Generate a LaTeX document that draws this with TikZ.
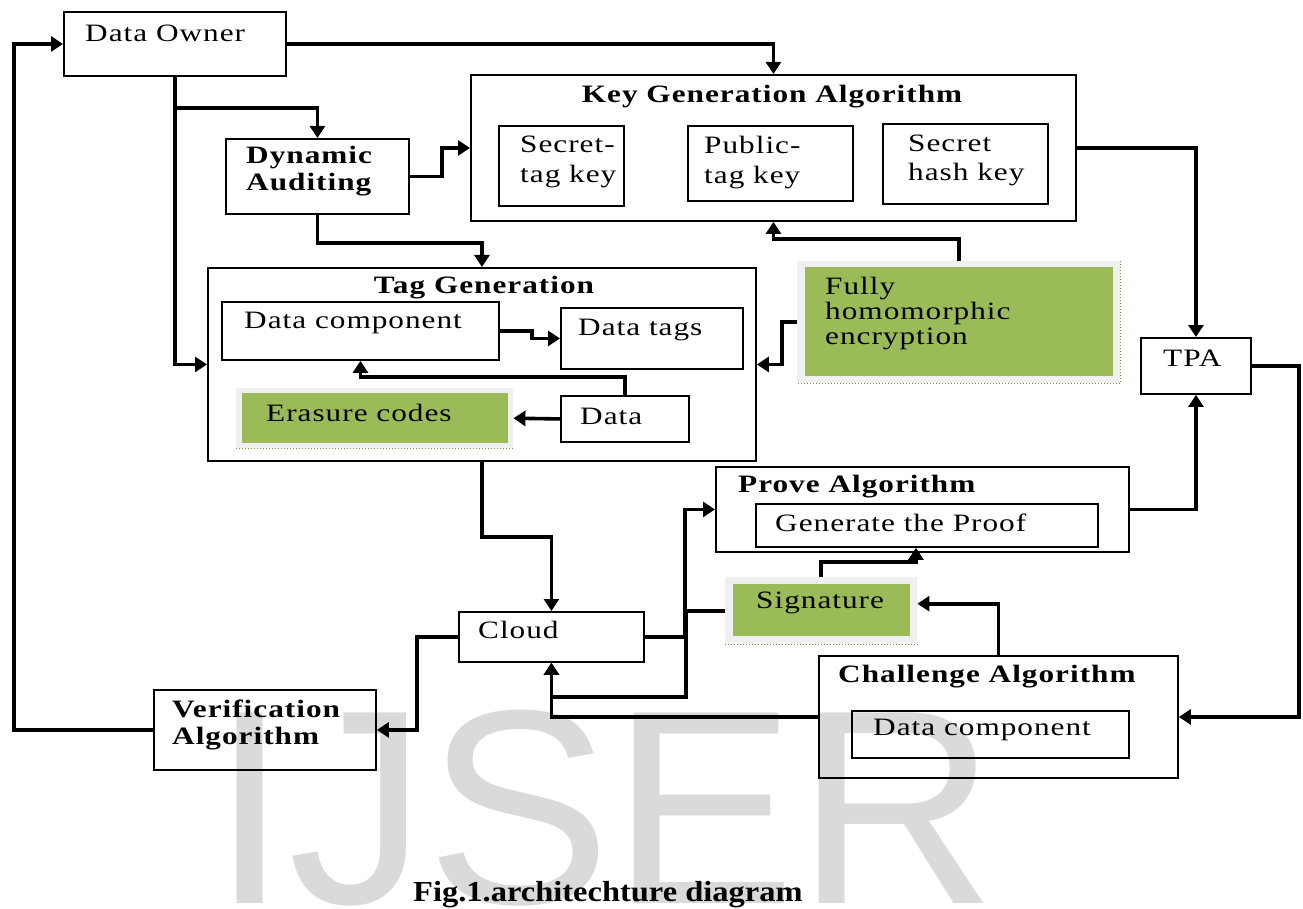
\documentclass[tikz,border=0pt]{standalone}
\usepackage{fontspec}
\setmainfont{Liberation Serif}[FakeStretch=1.25,LetterSpace=4]
\newfontfamily\capfont{Liberation Serif}[FakeStretch=1.12]
\newfontfamily\wmfont{Liberation Sans}
\usetikzlibrary{arrows.meta,calc}
\definecolor{ogreen}{HTML}{9BBB59}
\definecolor{oframe}{HTML}{F0F0F0}
\definecolor{odot}{HTML}{76923C}
\definecolor{wmgray}{HTML}{DADADA}
\newcommand\dfont{\fontsize{25}{27}\selectfont}
\begin{document}
\begin{tikzpicture}[x=1pt,y=-1pt,
  box/.style={draw, line width=1.9pt, inner sep=0pt, anchor=north west},
  gframe/.style={fill=oframe, inner sep=0pt, anchor=north west},
  gbox/.style={fill=ogreen, inner sep=0pt, anchor=north west},
  conn/.style={line width=3.6pt, -{Triangle[length=12pt,width=15pt]}},
  lbl/.style={anchor=west, inner sep=0pt, font=\dfont, align=left},
  blbl/.style={anchor=west, inner sep=0pt, font=\dfont\bfseries, align=left},
  ttl/.style={anchor=center, inner sep=0pt, font=\dfont\bfseries},
  dotl/.style={draw=odot, line width=1pt, dotted}]

\useasboundingbox (0,0) rectangle (1303,909);

% watermark
\begin{scope}
\clip (0,0) rectangle (1303,909);
\node[anchor=base west, inner sep=0pt, text=wmgray, font=\wmfont\fontsize{277}{277}\selectfont] (wm) at (211,903) {IJSER};
\end{scope}

% boxes
\node[box, minimum width=222pt, minimum height=64pt] (owner) at (63,11) {};
\node[box, minimum width=605pt, minimum height=146pt] (keygen) at (470,74) {};
\node[box, minimum width=125pt, minimum height=80pt] (sk) at (498,125) {};
\node[box, minimum width=165pt, minimum height=75pt] (pk) at (687,125) {};
\node[box, minimum width=165pt, minimum height=80pt] (hk) at (882,123) {};
\node[box, minimum width=183pt, minimum height=75pt] (dyn) at (225,138) {};
\node[box, minimum width=548pt, minimum height=193pt] (taggen) at (207,267) {};
\node[box, minimum width=277pt, minimum height=58pt] (dc1) at (221,301) {};
\node[box, minimum width=182pt, minimum height=61pt] (dtags) at (560,307) {};
\node[box, minimum width=128pt, minimum height=46pt] (data) at (560,395) {};
\node[box, minimum width=110pt, minimum height=56pt] (tpa) at (1140,337) {};
\node[box, minimum width=413pt, minimum height=85pt] (prove) at (715,466) {};
\node[box, minimum width=342pt, minimum height=43pt] (gen) at (755,503) {};
\node[box, minimum width=185pt, minimum height=50pt] (cloud) at (458,611) {};
\node[box, minimum width=359pt, minimum height=122pt] (chal) at (818,655) {};
\node[box, minimum width=277pt, minimum height=47pt] (dc2) at (851,710) {};
\node[box, minimum width=222pt, minimum height=80pt] (verif) at (153,689) {};

% green boxes
\node[gframe, minimum width=277pt, minimum height=60pt] (erasure) at (236,388) {};
\node[gbox, minimum width=266pt, minimum height=50pt] (erasureg) at (242,393) {};
\draw[dotl] (erasure.south west) -- (erasure.south east);

\node[gframe, minimum width=323pt, minimum height=122pt] (fhe) at (797,261) {};
\node[gbox, minimum width=308pt, minimum height=109pt] (fheg) at (805,267) {};
\draw[dotl] (fhe.north east) -- (fhe.south east) -- (fhe.south west);

\node[gframe, minimum width=192pt, minimum height=67pt] (sig) at (725,577) {};
\node[gbox, minimum width=177pt, minimum height=52pt] (sigg) at (733,584) {};
\draw[dotl] (sig.south west) -- (sig.south east);

% texts
\node[lbl] (towner) at (85,33) {Data Owner};
\node[ttl] (tkeygen) at (772,97) {Key Generation Algorithm};
\node[lbl, font=\fontsize{25}{30}\selectfont] (tsk) at (520,162) {Secret-\\tag key};
\node[lbl, font=\fontsize{25}{30}\selectfont] (tpk) at (704,163) {Public-\\tag key};
\node[lbl, font=\fontsize{25}{29}\selectfont] (thk) at (908,160) {Secret\\hash key};
\node[blbl] (tdyn) at (246,171) {Dynamic\\Auditing};
\node[ttl] (ttaggen) at (484,288) {Tag Generation};
\node[lbl] (tdc1) at (244,323) {Data component};
\node[lbl] (tdtags) at (578,330) {Data tags};
\node[lbl] (terasure) at (266,413) {Erasure codes};
\node[lbl] (tdata) at (580,416) {Data};
\node[lbl, font=\fontsize{25}{25}\selectfont] (tfhe) at (825,314) {Fully\\homomorphic\\encryption};
\node[lbl] (ttpa) at (1163,358) {TPA};
\node[blbl] (tprove) at (738,487) {Prove Algorithm};
\node[lbl] (tgen) at (775,523) {Generate the Proof};
\node[lbl] (tsig) at (756,603) {Signature};
\node[lbl] (tcloud) at (478,630) {Cloud};
\node[blbl] (tchal) at (838,677) {Challenge Algorithm};
\node[lbl] (tdc2) at (873,730) {Data component};
\node[blbl] (tverif) at (172,725) {Verification\\Algorithm};
\node[anchor=west, inner sep=0pt, font=\capfont\fontsize{29}{31}\selectfont\bfseries] (caption) at (413,895) {Fig.1.architechture diagram};

% connectors
\draw[conn] (owner.east) -| (keygen.north);
\draw[conn] (owner.south) |- (taggen.west);
\draw[conn] ($(owner.south)+(0,31)$) -| (dyn.north);
\draw[conn] (dyn.east) -- ++(32,0) |- (keygen.west);
\draw[conn] (dyn.south) -- ++(0,28) -| (taggen.north);
\draw[conn] (dc1.east) -- ++(32,0) |- (dtags.west);
\draw[conn] (data.north) -- ++(0,-18) -| (dc1.south);
\draw[conn] (data.west) -- (erasure.east);
\draw[conn] (fhe.west) -- ++(-15,0) |- (taggen.east);
\draw[conn] (fhe.north) -- ++(0,-22) -| (keygen.south);
\draw[conn] (keygen.east) -| (tpa.north);
\draw[conn] (tpa.east) -- ++(47,0) |- (chal.east);
\draw[conn] (prove.east) -| (tpa.south);
\draw[conn] (taggen.south) -- ++(0,75) -| (cloud.north);
\draw[conn] (cloud.east) -- ++(40,0) |- (prove.west);
\draw[conn] (sig.west) -- ++(-39,0) -- ++(0,86) -| (cloud.south);
\draw[conn] (chal.west) -| (cloud.south);
\draw[conn] (chal.north) |- ($(sig.east)+(0,-7)$);
\draw[conn] (sig.north) -- ++(0,-15) -| ($(gen.south)+(-11,0)$);
\draw[conn] (cloud.west) -- ++(-41,0) |- (verif.east);
\draw[conn] (verif.west) -- ++(-139,0) |- (owner.west);
\end{tikzpicture}
\end{document}
